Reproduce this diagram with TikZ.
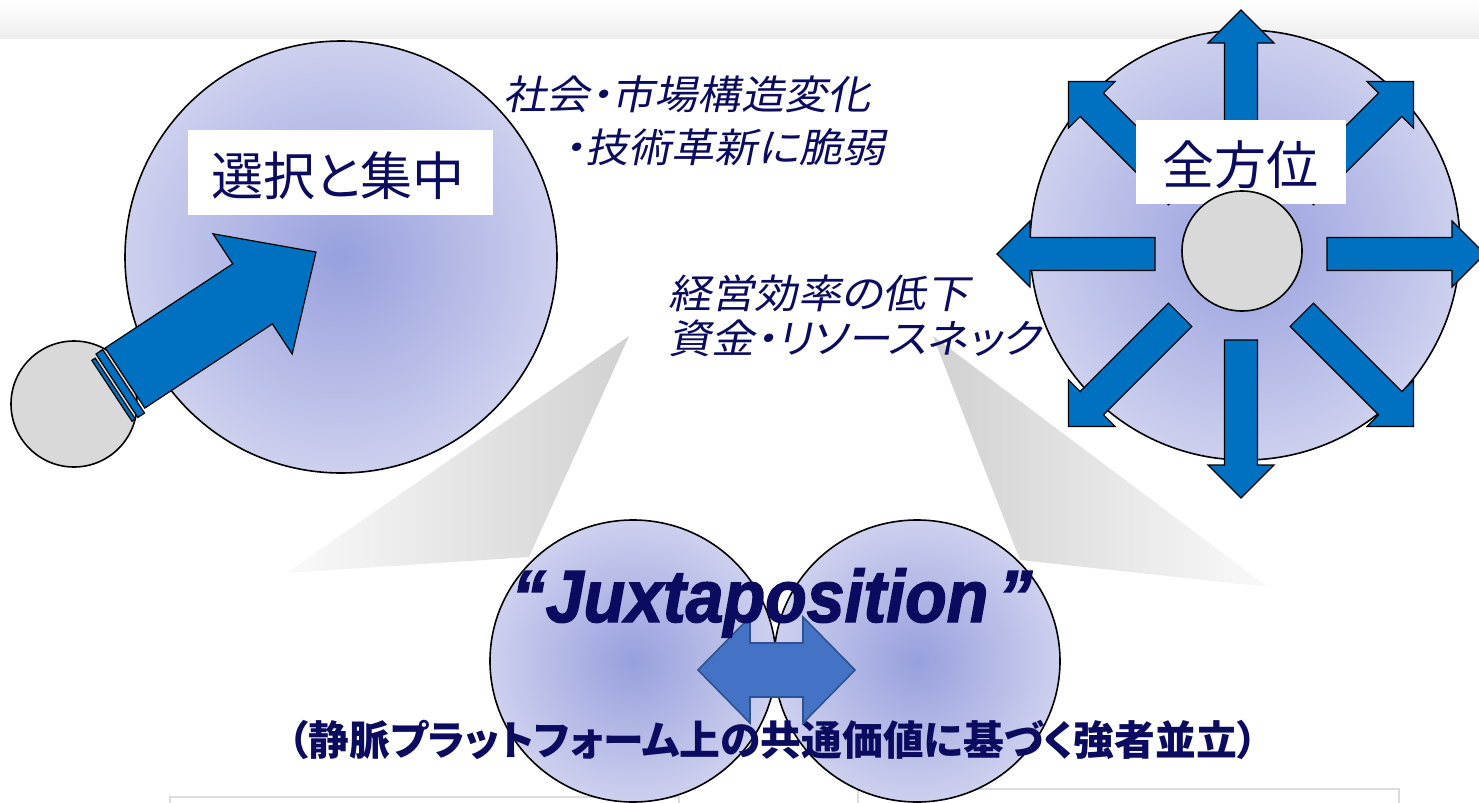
\documentclass[tikz,border=0pt]{standalone}
\usepackage{fontspec}
\newfontfamily\jp{Noto Sans CJK JP}[RawFeature=+palt]
\newfontfamily\jpit{Noto Sans CJK JP}[RawFeature=+palt, FakeSlant=0.2, FakeStretch=1.08]
\newfontfamily\jux{Liberation Sans}[FakeBold=2, FakeStretch=0.92]
\definecolor{navy}{HTML}{0B0B5F}
\definecolor{arrblue}{HTML}{0070C0}
\definecolor{darrow}{HTML}{4472C4}
\definecolor{darrowline}{HTML}{2F528F}
\definecolor{cin}{HTML}{98A0DD}
\definecolor{cout}{HTML}{CDD0EE}
\definecolor{lgray}{HTML}{D9D9D9}
\definecolor{bandgray}{HTML}{EEEEEE}
\definecolor{boxline}{HTML}{DDDDDD}
\tikzset{
  bubble/.style={draw=black, line width=0.8pt, inner color=cin, outer color=cout},
  knob/.style={draw=black, line width=0.8pt, fill=lgray},
  bluearrow/.style={draw=black, line width=0.6pt, fill=arrblue},
  whitebox/.style={fill=white, inner sep=0pt},
  bigjp/.style={font=\jp\fontsize{26pt}{30pt}\selectfont, text=navy, inner sep=0pt},
  itjp/.style={font=\jpit\fontsize{20pt}{24pt}\selectfont, text=navy, inner sep=0pt, anchor=west},
  beam/.style={draw=none},
}
\begin{document}
\begin{tikzpicture}[x=0.5pt,y=-0.5pt]
\useasboundingbox (0,0) rectangle (1479,803);
% top band
\shade[top color=white, bottom color=bandgray] (0,0) rectangle (1479,38);
% faint boxes at the bottom
\draw[boxline, line width=0.6pt] (170,803) -- (170,797) -- (679,797) -- (679,803);
\draw[boxline, line width=0.6pt] (858,803) -- (858,789) -- (1399,789) -- (1399,803);
% gray beams
\shade[beam, left color=gray!4, right color=gray!36] (629,336) -- (286,573) -- (529,557) -- cycle;
\shade[beam, left color=gray!36, right color=gray!4] (933,336) -- (1020,560) -- (1268,587) -- cycle;
% big bubbles
\path[bubble] (341,257) ellipse [x radius=216, y radius=216];
\path[bubble] (1245,245) ellipse [x radius=215, y radius=215];
\path[bubble] (633,661) ellipse [x radius=143, y radius=141];
\path[bubble] (917,661) ellipse [x radius=143, y radius=141];
% left: knob and arrow
\path[knob] (74,404) circle [radius=63];
\begin{scope}[shift={(125,378)},rotate=33.4]
  \path[bluearrow] (0,-36) -- (152.8,-36) -- (152.8,-72) -- (228.8,0) -- (152.8,72) -- (152.8,36) -- (0,36) -- cycle;
  \path[bluearrow] (-11,-36) rectangle (-3,40);
  \path[bluearrow] (-18,-33) rectangle (-14,40);
\end{scope}
\node[whitebox, minimum width=152.5pt, minimum height=42.5pt] (selbox) at (340.5,172.5) {};
\node[bigjp] (sel) at (338,176) {選択と集中};
% right: eight arrows
\foreach \a in {0,45,...,315}{
  \begin{scope}[shift={(1241,254)},rotate=\a]
    \path[bluearrow] (86,-16.5) -- (211,-16.5) -- (211,-33) -- (244,0) -- (211,33) -- (211,16.5) -- (86,16.5) -- cycle;
  \end{scope}
}
\node[whitebox, minimum width=105pt, minimum height=42pt] (allbox) at (1241,162) {};
\path[knob] (1242,251) circle [radius=60];
\node[bigjp] (all) at (1240,165) {全方位};
% italic texts
\node[itjp] (t1) at (503,94) {社会・市場構造変化};
\node[itjp] (t2) at (563,147) {・技術革新に脆弱};
\node[itjp] (t3) at (668,293) {経営効率の低下};
\node[itjp] (t4) at (668,338) {資金・リソースネック};
% double arrow
\path[draw=darrowline, line width=0.8pt, fill=darrow] (698,670) -- (750,617) -- (750,643) -- (803,643) -- (803,617) -- (855,670) -- (803,723) -- (803,697) -- (750,697) -- (750,723) -- cycle;
% juxtaposition
\node[font=\jux\bfseries\itshape\fontsize{37pt}{42pt}\selectfont, text=navy, anchor=base, inner sep=0pt] (jx) at (772,622) {“Juxtaposition\kern5pt”};
\node[font=\jp\bfseries\fontsize{20.4pt}{24pt}\selectfont, text=navy, inner sep=0pt] (bt) at (773,740) {（静脈プラットフォーム上の共通価値に基づく強者並立）};
\end{tikzpicture}
\end{document}
